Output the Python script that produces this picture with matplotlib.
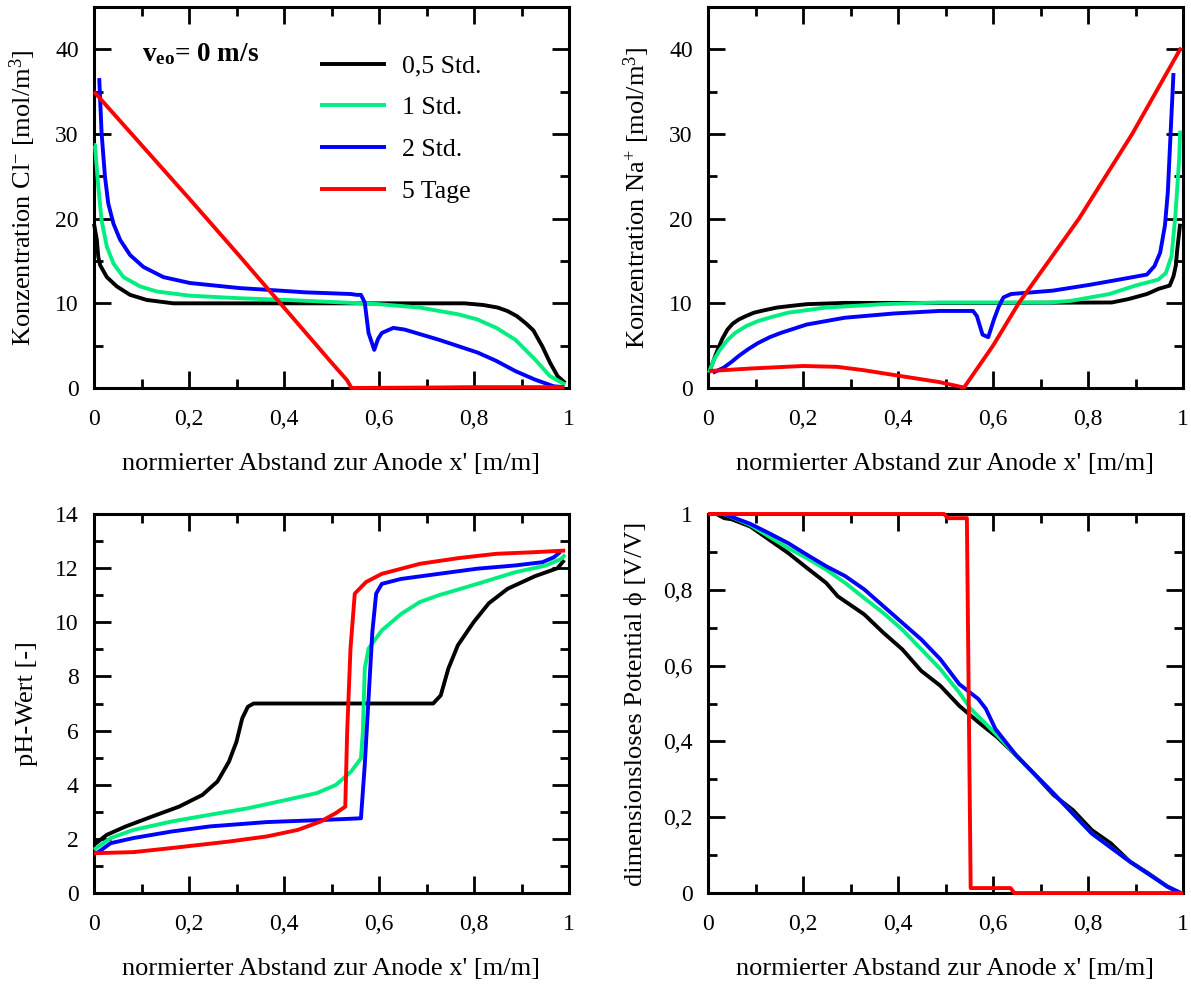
import matplotlib
matplotlib.use("Agg")
import matplotlib.pyplot as plt
from matplotlib.ticker import MultipleLocator, FuncFormatter

plt.rcParams.update({
    "font.family": ["Liberation Serif", "DejaVu Serif"],
    "mathtext.fontset": "custom",
    "mathtext.rm": "Liberation Serif",
    "mathtext.it": "Liberation Serif:italic",
    "mathtext.bf": "Liberation Serif:bold",
    "axes.linewidth": 2.2,
})

# ---- Chlorid (Cl-) ----
cl_x_05 = [0, 0.006, 0.009, 0.013, 0.027, 0.048, 0.076, 0.111, 0.167, 0.3, 0.6,
           0.78, 0.82, 0.85, 0.87, 0.89, 0.91, 0.925, 0.944, 0.96, 0.976, 0.992]
cl_y_05 = [19.4, 17.5, 15.5, 14.5, 13.1, 12.0, 11.0, 10.4, 10.0, 10.0, 10.0,
           10.0, 9.8, 9.5, 9.1, 8.5, 7.6, 6.8, 4.9, 3.0, 1.4, 0.6]
cl_x_1 = [0, 0.002, 0.009, 0.016, 0.027, 0.041, 0.062, 0.097, 0.132, 0.202, 0.307, 0.405,
          0.525, 0.6, 0.686, 0.767, 0.807, 0.847, 0.887, 0.928, 0.96, 0.992]
cl_y_1 = [28.7, 28.7, 23.8, 19.8, 16.7, 14.7, 13.1, 12.0, 11.4, 10.9, 10.6, 10.4,
          10.1, 9.9, 9.5, 8.7, 8.1, 7.1, 5.7, 3.4, 1.4, 0.4]
cl_x_2 = [0.011, 0.016, 0.023, 0.030, 0.041, 0.055, 0.076, 0.104, 0.146, 0.202, 0.272,
          0.307, 0.364, 0.445, 0.541, 0.553, 0.562, 0.57, 0.578, 0.59, 0.598,
          0.606, 0.63, 0.654, 0.726, 0.807, 0.847, 0.887, 0.928, 0.968, 0.99]
cl_y_2 = [36.6, 30.1, 25.0, 21.8, 19.4, 17.5, 15.7, 14.3, 13.1, 12.4, 12.0,
          11.8, 11.6, 11.3, 11.1, 11.0, 11.0, 10.1, 6.5, 4.5, 5.8,
          6.5, 7.1, 6.9, 5.7, 4.2, 3.2, 2.0, 1.0, 0.2, 0.1]
cl_x_5 = [0, 0.1, 0.2, 0.3, 0.4, 0.5, 0.533, 0.542, 0.6, 0.7, 0.8, 0.9, 0.99]
cl_y_5 = [35, 28.7, 22.4, 16.0, 9.5, 3.0, 0.9, 0.0, 0.02, 0.05, 0.1, 0.1, 0.1]

# ---- Natrium (Na+) ----
na_x_05 = [0.002, 0.01, 0.018, 0.03, 0.041, 0.052, 0.065, 0.08, 0.097, 0.12, 0.145, 0.175,
           0.208, 0.288, 0.4, 0.6, 0.85, 0.885, 0.924, 0.948, 0.972, 0.98, 0.985, 0.988, 0.994]
na_y_05 = [1.8, 3.0, 4.2, 5.8, 6.9, 7.6, 8.1, 8.5, 8.9, 9.2, 9.5, 9.7,
           9.9, 10.05, 10.05, 10.05, 10.1, 10.5, 11.1, 11.7, 12.1, 13.2, 14.5, 16.4, 19.4]
na_x_1 = [0.002, 0.012, 0.025, 0.04, 0.057, 0.08, 0.105, 0.135, 0.169, 0.248, 0.368, 0.487,
          0.72, 0.765, 0.845, 0.9, 0.948, 0.964, 0.976, 0.984, 0.992, 0.994]
na_y_1 = [1.8, 3.3, 4.5, 5.6, 6.5, 7.3, 7.9, 8.4, 8.9, 9.5, 9.9, 10.1,
          10.1, 10.3, 11.1, 12.1, 12.8, 13.6, 15.6, 20.4, 27.1, 30.4]
na_x_2 = [0.01, 0.033, 0.05, 0.065, 0.085, 0.105, 0.13, 0.153, 0.208, 0.288, 0.391, 0.487,
          0.558, 0.566, 0.578, 0.59, 0.602, 0.612, 0.622, 0.638, 0.726, 0.805, 0.885, 0.924,
          0.94, 0.952, 0.962, 0.968, 0.974, 0.98]
na_y_2 = [1.8, 2.4, 3.1, 3.8, 4.6, 5.3, 6.0, 6.5, 7.5, 8.3, 8.8, 9.1,
          9.1, 8.5, 6.3, 6.0, 8.1, 9.6, 10.7, 11.1, 11.5, 12.2, 13.0, 13.4,
          14.4, 16.0, 19.2, 23.1, 30.2, 37.2]
na_x_5 = [0.002, 0.089, 0.2, 0.272, 0.328, 0.407, 0.487, 0.539, 0.6, 0.654, 0.781, 0.893, 0.996]
na_y_5 = [2.0, 2.3, 2.6, 2.5, 2.1, 1.4, 0.7, 0.05, 5.0, 10.0, 20.0, 30.0, 40.2]

# ---- pH ----
ph_x_05 = [0, 0.027, 0.067, 0.123, 0.179, 0.228, 0.26, 0.284, 0.3, 0.312, 0.324, 0.336,
           0.714, 0.73, 0.746, 0.766, 0.799, 0.831, 0.871, 0.928, 0.976, 0.99]
ph_y_05 = [1.78, 2.15, 2.46, 2.83, 3.19, 3.62, 4.12, 4.85, 5.59, 6.45, 6.88, 7.0,
           7.0, 7.3, 8.29, 9.15, 10.0, 10.7, 11.24, 11.7, 12.0, 12.3]
ph_x_1 = [0, 0.035, 0.083, 0.163, 0.244, 0.324, 0.405, 0.469, 0.509, 0.541, 0.562, 0.566,
          0.57, 0.578, 0.606, 0.646, 0.686, 0.726, 0.807, 0.887, 0.952, 0.984, 0.992]
ph_y_1 = [1.6, 2.03, 2.33, 2.64, 2.89, 3.13, 3.44, 3.69, 3.99, 4.48, 4.97, 5.96,
          8.29, 9.03, 9.7, 10.3, 10.75, 11.0, 11.42, 11.85, 12.1, 12.35, 12.5]
ph_x_2 = [0.006, 0.035, 0.083, 0.163, 0.244, 0.364, 0.485, 0.562, 0.57, 0.578, 0.586, 0.594,
          0.606, 0.646, 0.726, 0.807, 0.887, 0.944, 0.968, 0.982]
ph_y_2 = [1.47, 1.84, 2.03, 2.27, 2.46, 2.62, 2.7, 2.76, 4.73, 7.19, 9.64, 11.06,
          11.42, 11.6, 11.79, 11.98, 12.1, 12.22, 12.4, 12.6]
ph_x_5 = [0, 0.083, 0.163, 0.284, 0.364, 0.429, 0.477, 0.509, 0.529, 0.533, 0.54, 0.549,
          0.573, 0.606, 0.686, 0.767, 0.847, 0.928, 0.992]
ph_y_5 = [1.47, 1.51, 1.66, 1.9, 2.09, 2.33, 2.64, 2.95, 3.19, 5.96, 9.03, 11.06,
          11.49, 11.79, 12.16, 12.37, 12.53, 12.59, 12.65]

# ---- dimensionsloses Potential ----
phi_x_05 = [0, 0.018, 0.034, 0.05, 0.089, 0.129, 0.169, 0.209, 0.249, 0.273, 0.329, 0.369,
            0.409, 0.449, 0.489, 0.529, 0.569, 0.609, 0.649, 0.689, 0.728, 0.768, 0.808,
            0.848, 0.888, 0.927, 0.967, 0.995]
phi_y_05 = [1, 1, 0.989, 0.986, 0.967, 0.932, 0.897, 0.857, 0.818, 0.783, 0.735, 0.687,
            0.643, 0.586, 0.547, 0.494, 0.451, 0.411, 0.363, 0.311, 0.258, 0.219, 0.166,
            0.131, 0.083, 0.052, 0.017, 0]
phi_x_1 = [0, 0.034, 0.089, 0.129, 0.169, 0.209, 0.249, 0.289, 0.329, 0.369, 0.409, 0.449,
           0.489, 0.529, 0.553, 0.585, 0.609, 0.649, 0.728, 0.808, 0.888, 0.967, 0.995]
phi_y_1 = [1, 1, 0.971, 0.94, 0.91, 0.883, 0.853, 0.818, 0.778, 0.739, 0.695, 0.643,
           0.591, 0.529, 0.486, 0.446, 0.416, 0.363, 0.262, 0.157, 0.083, 0.017, 0]
phi_x_2 = [0, 0.034, 0.089, 0.129, 0.169, 0.209, 0.249, 0.289, 0.329, 0.369, 0.409, 0.449,
           0.489, 0.529, 0.569, 0.585, 0.605, 0.649, 0.728, 0.808, 0.888, 0.967, 0.995]
phi_y_2 = [1, 1, 0.974, 0.949, 0.923, 0.892, 0.862, 0.836, 0.801, 0.757, 0.713, 0.669,
           0.617, 0.551, 0.512, 0.486, 0.433, 0.363, 0.262, 0.157, 0.083, 0.017, 0]
phi_x_5 = [0, 0.497, 0.505, 0.545, 0.553, 0.637, 0.645, 1.0]
phi_y_5 = [1, 1, 0.989, 0.989, 0.013, 0.013, 0.0, 0.0]

labels = ["0,5 Std.", "1 Std.", "2 Std.", "5 Tage"]
colors = ["#000000", "#00EE80", "#0000FF", "#FF0000"]

xlabel = "normierter Abstand zur Anode x' [m/m]"
comma = FuncFormatter(lambda v, p: ("%g" % v).replace(".", ","))

fig = plt.figure(figsize=(11.91, 9.84), dpi=100)
W, H = 1191, 984


def make_ax(x0, x1, ytop, ybot):
    return fig.add_axes([x0 / W, 1 - ybot / H, (x1 - x0) / W, (ybot - ytop) / H])


ax_cl = make_ax(94, 569, 7, 388)
ax_na = make_ax(708, 1183, 7, 388)
ax_ph = make_ax(94, 569, 514, 893)
ax_phi = make_ax(708, 1183, 514, 893)

panels = [
    (ax_cl, [(cl_x_05, cl_y_05), (cl_x_1, cl_y_1), (cl_x_2, cl_y_2), (cl_x_5, cl_y_5)],
     (0, 45), 10, 5, r"Konzentration Cl$^{-}$ [mol/m$^{3}$]"),
    (ax_na, [(na_x_05, na_y_05), (na_x_1, na_y_1), (na_x_2, na_y_2), (na_x_5, na_y_5)],
     (0, 45), 10, 5, r"Konzentration Na$^{+}$ [mol/m$^{3}$]"),
    (ax_ph, [(ph_x_05, ph_y_05), (ph_x_1, ph_y_1), (ph_x_2, ph_y_2), (ph_x_5, ph_y_5)],
     (0, 14), 2, 1, "pH-Wert [-]"),
    (ax_phi, [(phi_x_05, phi_y_05), (phi_x_1, phi_y_1), (phi_x_2, phi_y_2), (phi_x_5, phi_y_5)],
     (0, 1), 0.2, 0.1, "dimensionsloses Potential \u03d5 [V/V]"),
]

for ax, curves, ylim, ymaj, ymin, ylab in panels:
    for (x, y), c, lab in zip(curves, colors, labels):
        ax.plot(x, y, color=c, lw=2.8, label=lab, clip_on=False, zorder=3,
                solid_capstyle="butt", solid_joinstyle="round")
    ax.set_xlim(0, 1)
    ax.set_ylim(*ylim)
    ax.xaxis.set_major_locator(MultipleLocator(0.2))
    ax.xaxis.set_minor_locator(MultipleLocator(0.1))
    ax.yaxis.set_major_locator(MultipleLocator(ymaj))
    ax.yaxis.set_minor_locator(MultipleLocator(ymin))
    ax.xaxis.set_major_formatter(comma)
    ax.yaxis.set_major_formatter(comma)
    ax.tick_params(which="both", direction="in", top=True, right=True, width=2.0)
    ax.tick_params(which="major", length=12)
    ax.tick_params(which="minor", length=6.5)
    ax.tick_params(axis="x", which="major", labelsize=17, pad=15)
    ax.tick_params(axis="y", which="major", labelsize=17, pad=11)
    ax.set_xlabel(xlabel, fontsize=19, labelpad=17)
    ax.set_ylabel(ylab, fontsize=19, labelpad=12)

ax_cl.legend(loc="upper left", bbox_to_anchor=(0.475, 0.875), frameon=False, fontsize=18.5,
             handlelength=2.6, handletextpad=0.6, labelspacing=0.73,
             borderpad=0, borderaxespad=0)
ax_cl.text(0.101, 0.858, r"$\mathbf{v}_{\mathbf{eo}}$= 0 m/s", transform=ax_cl.transAxes,
           fontsize=19.5, fontweight="bold", ha="left", va="baseline")

fig.savefig("out.png", dpi=100, facecolor="white")
